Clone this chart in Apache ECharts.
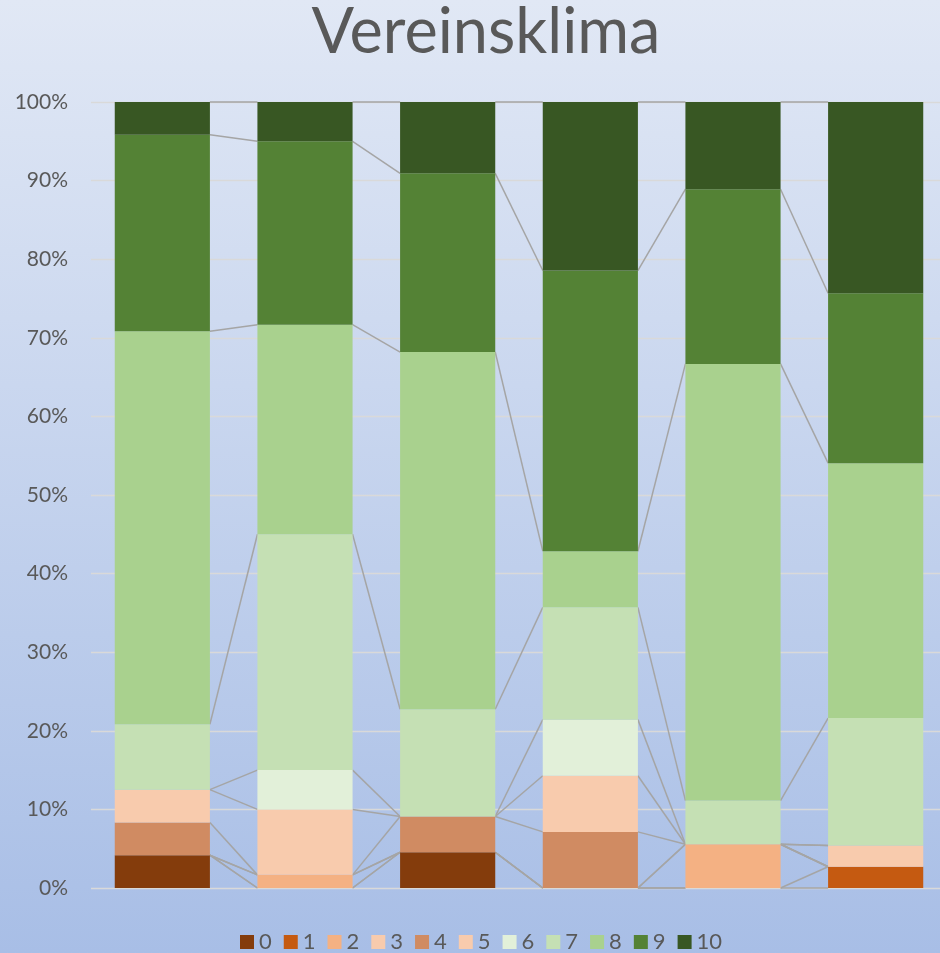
<!DOCTYPE html>
<html>
<head>
<meta charset="utf-8">
<title>Vereinsklima</title>
<script src="https://cdn.jsdelivr.net/npm/echarts@6/dist/echarts.min.js"></script>
<style>
  html, body { margin: 0; padding: 0; overflow: hidden; }
  /* the original chart is a bit wider than the window and gets cut on the right */
  #chart { width: 952px; height: 953px; }
</style>
</head>
<body>
<div id="chart"></div>
<script>
// groups (no labels shown in the chart)
const categories = ['1', '2', '3', '4', '5', '6'];

// share of answers per rating, in percent
const names = ['0', '1', '2', '3', '4', '5', '6', '7', '8', '9', '10'];
const s0  = [4.17, 0, 4.55, 0, 0, 0];
const s1  = [0, 0, 0, 0, 0, 2.70];
const s2  = [0, 1.67, 0, 0, 5.56, 0];
const s3  = [0, 0, 0, 0, 0, 0];
const s4  = [4.17, 0, 4.55, 7.14, 0, 0];
const s5  = [4.17, 8.33, 0, 7.14, 0, 2.70];
const s6  = [0, 5.00, 0, 7.14, 0, 0];
const s7  = [8.33, 30.00, 13.64, 14.29, 5.56, 16.22];
const s8  = [50.00, 26.67, 45.45, 7.14, 55.56, 32.43];
const s9  = [25.00, 23.33, 22.73, 35.71, 22.22, 21.62];
const s10 = [4.17, 5.00, 9.09, 21.43, 11.11, 24.32];

const yTicks = [0, 10, 20, 30, 40, 50, 60, 70, 80, 90, 100];

const values = [s0, s1, s2, s3, s4, s5, s6, s7, s8, s9, s10];
const colors = ['#843C0C', '#C55A11', '#F4B183', '#F8CBAD', '#D08B62', '#F8CBAD',
                '#E2F0D9', '#C5E0B4', '#A9D18E', '#548235', '#385723'];

// cumulative tops, used for the connector (series) lines
const tops = values.map((_, i) =>
  categories.map((c, j) => values.slice(0, i + 1).reduce((s, a) => s + a[j], 0))
);
const lineData = [];
tops.forEach(t => {
  for (let j = 0; j < categories.length - 1; j++) lineData.push([j, t[j], t[j + 1]]);
});

const font = 'Lato, "Open Sans", sans-serif';
const chart = echarts.init(document.getElementById('chart'));

const barSeries = values.map((v, i) => ({
  name: names[i],
  type: 'bar',
  stack: 'all',
  barCategoryGap: '33.3%',
  itemStyle: { color: colors[i] },
  data: v,
  z: 3
}));

chart.setOption({
  animation: false,
  backgroundColor: new echarts.graphic.LinearGradient(0, 0, 0, 1, [
    { offset: 0, color: '#E1E8F5' },
    { offset: 1, color: '#A8BEE6' }
  ]),
  title: {
    text: 'Vereinsklima',
    left: 481,
    textAlign: 'center',
    top: -4,
    textStyle: { fontFamily: font, fontSize: 63, fontWeight: 'normal', color: '#595959' }
  },
  legend: {
    data: names,
    left: 235,
    top: 926,
    icon: 'rect',
    itemWidth: 14,
    itemHeight: 14,
    itemGap: 12,
    textStyle: { fontFamily: font, fontSize: 22, color: '#595959' }
  },
  grid: { left: 91, top: 102, width: 856, height: 786 },
  xAxis: {
    type: 'category',
    data: categories,
    axisLine: { show: false },
    axisTick: { show: false },
    axisLabel: { show: false }
  },
  yAxis: {
    type: 'value',
    min: yTicks[0],
    max: yTicks[yTicks.length - 1],
    interval: 10,
    axisLabel: {
      formatter: '{value}%',
      fontFamily: font,
      fontSize: 21,
      color: '#595959',
      margin: 23
    },
    splitLine: { lineStyle: { color: '#D9D9D9', width: 1.3 } }
  },
  series: [
    {
      type: 'custom',
      silent: true,
      z: 2,
      data: lineData,
      encode: { x: 0, y: 1 },
      renderItem: (params, api) => {
        const j = api.value(0);
        const half = api.size([1, 0])[0] / 3;
        const p1 = api.coord([j, api.value(1)]);
        const p2 = api.coord([j + 1, api.value(2)]);
        return {
          type: 'line',
          shape: { x1: p1[0] + half, y1: p1[1], x2: p2[0] - half, y2: p2[1] },
          style: { stroke: '#A5A5A5', lineWidth: 1.5 }
        };
      }
    }
  ].concat(barSeries)
});
</script>
</body>
</html>
